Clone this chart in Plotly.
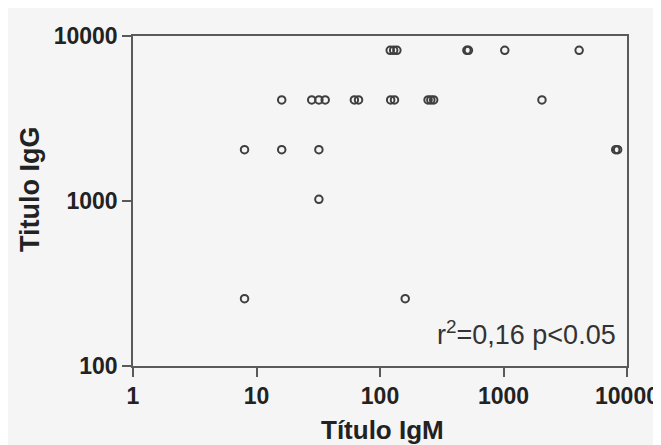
import plotly.graph_objects as go

# Data (IgM titer vs IgG titer)
igm = [121, 129, 137, 505, 520, 1024, 4096,
       16, 28, 32, 36, 62, 67, 122, 131, 245, 258, 272, 2048,
       8, 16, 32, 8100, 8400,
       32,
       8, 160]
igg = [8192, 8192, 8192, 8192, 8192, 8192, 8192,
       4096, 4096, 4096, 4096, 4096, 4096, 4096, 4096, 4096, 4096, 4096, 4096,
       2048, 2048, 2048, 2048, 2048,
       1024,
       256, 256]

x_ticks = [1, 10, 100, 1000, 10000]
x_labels = ["1", "10", "100", "1000", "10000"]
y_ticks = [100, 1000, 10000]
y_labels = ["100", "1000", "10000"]

GREY = "#f5f5f5"
AX = "#5a5a5a"
TXT = "#222222"
FONT = "Liberation Sans, Arial, sans-serif"

fig = go.Figure()
fig.add_trace(go.Scatter(
    x=igm, y=igg, mode="markers",
    marker=dict(symbol="circle-open", size=7.5, color="#3f3f3f",
                line=dict(width=2, color="#3f3f3f")),
    showlegend=False, hoverinfo="skip"))

fig.update_layout(
    width=653, height=437,
    margin=dict(l=125, r=34, t=28, b=79, autoexpand=False),
    paper_bgcolor=GREY, plot_bgcolor=GREY,
    font=dict(family=FONT, color=TXT),
    xaxis=dict(type="log", range=[0, 4], tickvals=x_ticks, ticktext=x_labels,
               showgrid=False, zeroline=False, showline=True, linecolor=AX,
               linewidth=1.5, mirror=True, ticks="outside", ticklen=9,
               tickwidth=1.5, tickcolor=AX, automargin=False,
               tickfont=dict(family=FONT, size=23, color=TXT, weight="bold")),
    yaxis=dict(type="log", range=[2, 4], tickvals=y_ticks, ticktext=y_labels,
               showgrid=False, zeroline=False, showline=True, linecolor=AX,
               linewidth=1.5, mirror=True, ticks="outside", ticklen=9,
               tickwidth=1.5, tickcolor=AX, automargin=False,
               tickfont=dict(family=FONT, size=23, color=TXT, weight="bold")),
    annotations=[
        dict(text="Título IgM", xref="paper", yref="paper",
             x=(382 - 133) / 494, y=(366 - 430) / 330,
             xanchor="center", yanchor="middle", showarrow=False,
             font=dict(family=FONT, size=26, color=TXT, weight="bold")),
        dict(text="Titulo IgG", xref="paper", yref="paper",
             x=(30 - 133) / 494, y=(366 - 190) / 330, textangle=-90,
             xanchor="center", yanchor="middle", showarrow=False,
             font=dict(family=FONT, size=27, color=TXT, weight="bold")),
        dict(text="r<sup>2</sup>=0,16 p&lt;0.05", xref="paper", yref="paper",
             x=(618 - 133) / 494, y=(366 - 333) / 330,
             xanchor="right", yanchor="middle", showarrow=False,
             font=dict(family=FONT, size=27, color="#333333")),
    ],
)

fig.write_html("out.html")
